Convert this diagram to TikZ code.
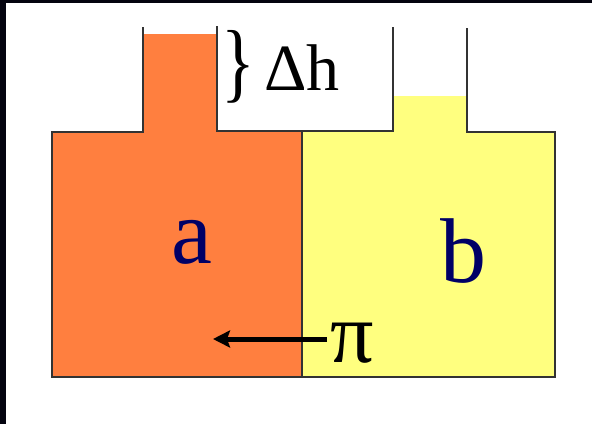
\documentclass[tikz,border=0pt]{standalone}
\usepackage{fontspec}
\setmainfont{Liberation Serif}
\usetikzlibrary{arrows.meta, positioning}
\definecolor{solA}{HTML}{FF7F3F}
\definecolor{solB}{HTML}{FFFF7F}
\definecolor{wall}{HTML}{333333}
\definecolor{ink}{HTML}{000066}
\definecolor{frame}{HTML}{04040F}
\tikzset{pressure/.style={line width=5pt, draw=black, -{Stealth[length=17pt,width=17pt,inset=3pt]}}}
\tikzstyle{vessel}    = [line width=2.5pt, draw=wall]
\tikzstyle{label}     = [inner sep=0pt, outer sep=0pt, text=ink, font=\fontsize{92}{92}\selectfont]

\begin{document}
\begin{tikzpicture}[x=1pt,y=-1pt]
\useasboundingbox (0,0) rectangle (592,424);
\fill[white] (0,0) rectangle (592,424);
\fill[frame] (0,0) rectangle (592,3);
\fill[frame] (0,0) rectangle (6,424);

% solutions
\fill[solA] (52,132) rectangle (302,377);
\fill[solA] (143,34) rectangle (217,132);
\fill[solB] (302,132) rectangle (555,377);
\fill[solB] (393,96) rectangle (467,132);

% vessel
\draw[vessel] (143,27) -- (143,132) -- (52,132) -- (52,377) -- (555,377) -- (555,132) -- (467,132) -- (467,28);
\draw[vessel] (217,26) -- (217,131) -- (393,131) -- (393,27);
\draw[line width=1.8pt, draw=wall] (302,131) -- (302,377);

\node[label, anchor=base] (A) at (192,263) {a};
\node[label, anchor=base] (B) at (463,282) {b};
\node[label, anchor=base west, text=black, font=\fontsize{86}{86}\selectfont] (P) at (330,362) {π};
\node[inner sep=0pt, anchor=center, font=\fontsize{88}{88}\selectfont] (BR) at (238,67) {\scalebox{0.8}[1]{\}}};
\node[inner sep=0pt, anchor=base west, font=\fontsize{66}{66}\selectfont] (DH) at (264,90) {Δh};

\coordinate (T) at (213,339);
\coordinate (S) at (327,339);
\draw[pressure] (S) -- (T);

\end{tikzpicture}
\end{document}
